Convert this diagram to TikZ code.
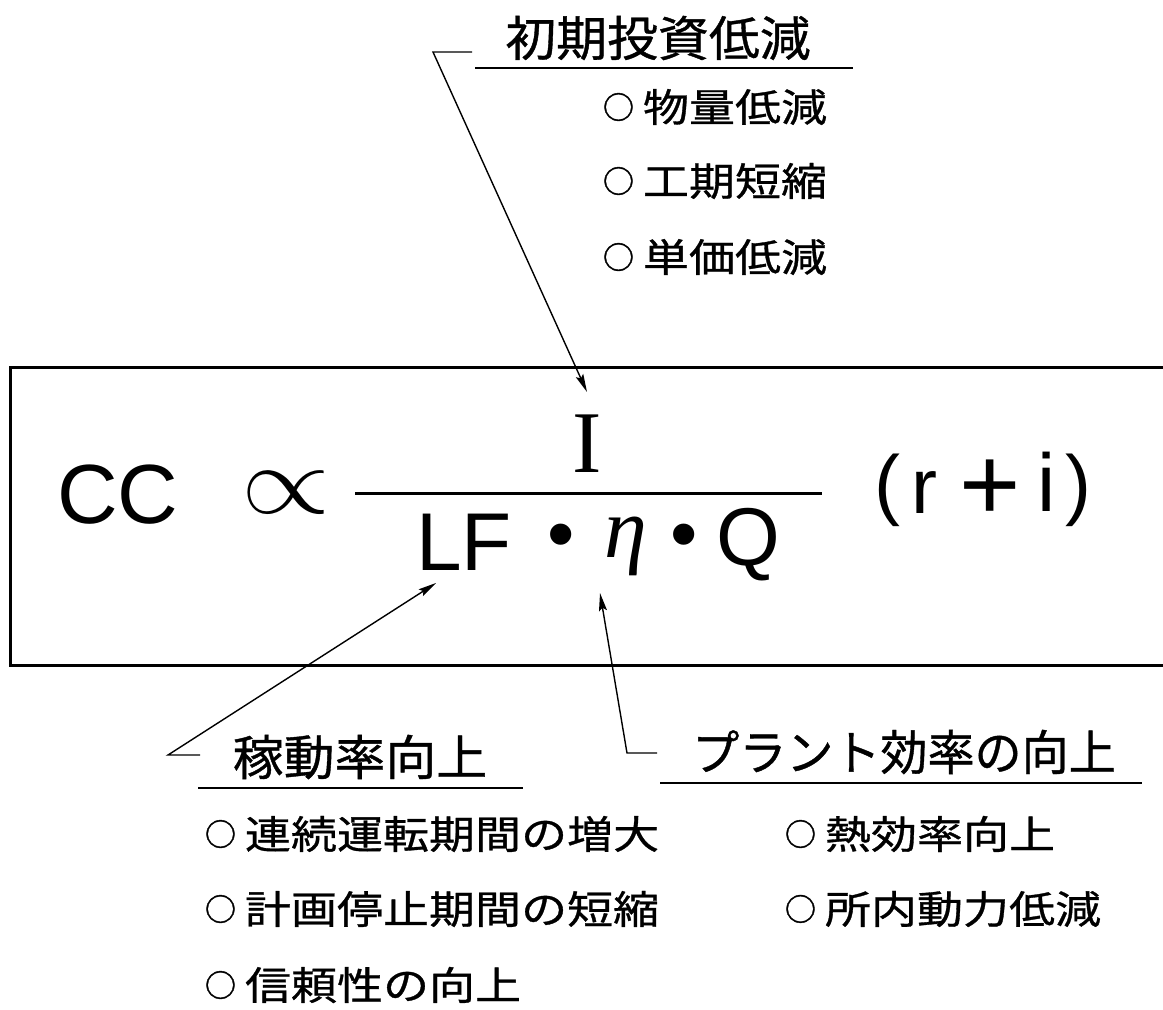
\documentclass[tikz,border=0pt]{standalone}
\usepackage{graphicx}
\usepackage{fontspec}
\setmainfont{Liberation Sans}
\newfontfamily\serifx{Liberation Serif}
\newfontfamily\jpA[FakeStretch=1.06,FakeBold=0.8]{Noto Sans CJK JP}
\newfontfamily\jpB[FakeStretch=0.98,FakeBold=0.8]{Noto Sans CJK JP}
\newfontfamily\jpI[FakeStretch=1.18,FakeBold=0.8]{Noto Sans CJK JP}
\newfontfamily\jpC[FakeBold=1.2]{Noto Sans CJK JP}
\usetikzlibrary{arrows.meta}
\newcommand{\circmark}{\raisebox{3pt}{\jpC\fontsize{31}{31}\selectfont ○}\hspace{9pt}}
\tikzset{
  txt/.style={inner sep=0pt, outer sep=0pt},
  heading/.style={txt, font=\jpA\fontsize{48}{48}\selectfont},
  headingk/.style={txt, font=\jpB\fontsize{48}{48}\selectfont},
  itemtxt/.style={txt, anchor=west, font=\jpI\fontsize{39}{39}\selectfont},
  boxline/.style={line width=3pt},
  uline/.style={line width=2.5pt},
  leader/.style={line width=1.4pt},
  pointer/.style={leader, -{Stealth[length=18pt,width=8pt,inset=3pt]}},
  fracline/.style={line width=3pt}
}
\begin{document}
\begin{tikzpicture}[x=1pt,y=-1pt]
\useasboundingbox (0,0) rectangle (1163,1010);
% frame (open at the right)
\draw[boxline] (1170,367) -| (10,665) -- (1170,665);

% top heading
\node[heading] (h1) at (658,38) {初期投資低減};
\coordinate (h1a) at (475,68); \coordinate (h1b) at (853,68);
\draw[uline] (h1a) -- (h1b);
\node[itemtxt] (t1) at (603,107) {\circmark 物量低減};
\node[itemtxt] (t2) at (603,181) {\circmark 工期短縮};
\node[itemtxt] (t3) at (603,257) {\circmark 単価低減};

% formula
\node[txt, font=\fontsize{84}{84}\selectfont] (cc) at (118,495) {CC};
\node[txt] (prop) at (286,493) {\scalebox{4.6}[3.9]{\fontsize{24.88}{26}\selectfont$\propto$}};
\node[txt, font=\serifx\fontsize{88}{88}\selectfont] (I) at (587,444) {I};
\coordinate (fa) at (355,493); \coordinate (fb) at (822,493);
\draw[fracline] (fa) -- (fb);
\node[txt, font=\fontsize{82}{82}\selectfont] (LF) at (464,542.5) {LF};
\node[txt, font=\fontsize{78}{78}\selectfont] (d1) at (561,542) {•};
\node[txt, font=\serifx\itshape\fontsize{86}{86}\selectfont] (eta) at (626,546) {η};
\node[txt, font=\fontsize{78}{78}\selectfont] (d2) at (684,542) {•};
\node[txt, font=\fontsize{82}{82}\selectfont] (Q) at (748,544.5) {Q};
\node[txt, font=\fontsize{78}{78}\selectfont] (lp) at (887,490) {(};
\node[txt, font=\fontsize{78}{78}\selectfont] (r) at (924,493) {r};
\node[txt, font=\fontsize{105}{105}\selectfont] (plus) at (990,490) {+};
\node[txt, font=\fontsize{82}{82}\selectfont] (i) at (1047,481.5) {i};
\node[txt, font=\fontsize{78}{78}\selectfont] (rp) at (1078,490) {)};

% bottom left heading
\node[heading] (h2) at (360,757) {稼動率向上};
\coordinate (h2a) at (198,788); \coordinate (h2b) at (523,788);
\draw[uline] (h2a) -- (h2b);
\node[itemtxt] (b1) at (205,834) {\circmark 連続運転期間の増大};
\node[itemtxt] (b2) at (205,909) {\circmark 計画停止期間の短縮};
\node[itemtxt] (b3) at (205,985) {\circmark 信頼性の向上};

% bottom right heading
\node[headingk] (h3) at (904,752) {プラント効率の向上};
\coordinate (h3a) at (660,783); \coordinate (h3b) at (1142,783);
\draw[uline] (h3a) -- (h3b);
\node[itemtxt] (c1) at (785,834) {\circmark 熱効率向上};
\node[itemtxt] (c2) at (785,909) {\circmark 所内動力低減};

% leaders with arrows
\coordinate (ts) at (472,52); \coordinate (tc) at (433,52); \coordinate (ttip) at (587,392);
\draw[pointer] (ts) -- (tc) -- (ttip);
\coordinate (ls) at (200,755); \coordinate (lc) at (168,755); \coordinate (ltip) at (436,583);
\draw[pointer] (ls) -- (lc) -- (ltip);
\coordinate (es) at (657,753); \coordinate (ec) at (627,753); \coordinate (etip) at (600,593);
\draw[pointer] (es) -- (ec) -- (etip);
\end{tikzpicture}
\end{document}
